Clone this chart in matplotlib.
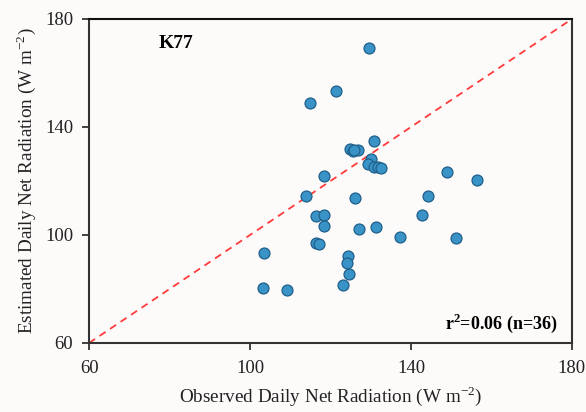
import matplotlib.pyplot as plt
import numpy as np

plt.rcParams['font.family'] = ['Liberation Serif', 'DejaVu Serif']
plt.rcParams['mathtext.fontset'] = 'custom'
plt.rcParams['mathtext.rm'] = 'Liberation Serif'
plt.rcParams['mathtext.bf'] = 'Liberation Serif:bold'

# observed / estimated daily net radiation (W m-2)
observed = [129.6, 121.3, 114.9, 130.7, 124.8, 125.7, 126.9, 130.1, 129.2,
            130.7, 131.8, 132.6, 118.5, 148.9, 156.5, 114.0, 126.2, 144.2,
            116.4, 118.5, 118.5, 127.0, 131.4, 142.8, 137.2, 151.1, 116.4,
            117.2, 124.4, 124.2, 124.6, 123.0, 103.5, 103.2, 109.3, 125.9]
estimated = [169.4, 153.2, 148.9, 134.8, 132.0, 131.1, 131.5, 128.2, 126.3,
             125.3, 125.2, 124.9, 122.0, 123.3, 120.4, 114.6, 113.7, 114.3,
             106.9, 107.4, 103.3, 102.3, 103.0, 107.3, 99.3, 98.8, 97.2,
             96.7, 92.2, 89.7, 85.4, 81.4, 93.2, 80.4, 79.6, 131.3]
ticks = [60, 100, 140, 180]
bg = '#fdfafa'

fig = plt.figure(figsize=(5.86, 4.12), dpi=100, facecolor=bg)
ax = fig.add_axes([0.152, 0.1675, 0.824, 0.7864], facecolor=bg)

ax.plot([60, 180], [60, 180], linestyle=(0, (4, 3)), color='#ff3b3b',
        linewidth=1.3, zorder=1)
ax.scatter(observed, estimated, s=62, color='#3a93c6', edgecolor='#1f5f8a',
           linewidth=0.9, zorder=3)

ax.set_xlim(60, 180)
ax.set_ylim(60, 180)
ax.set_xticks(ticks)
ax.set_yticks(ticks)
ax.tick_params(direction='out', length=5, width=1.2, labelsize=13.5,
               colors='#222222')
ax.tick_params(axis='x', pad=7.5)
ax.tick_params(axis='y', pad=6.5)
for side in ['left', 'bottom', 'top', 'right']:
    ax.spines[side].set_linewidth(1.5)
    ax.spines[side].set_color('#333333')
ax.spines['top'].set_color('#111111')

ax.set_xlabel('Observed Daily Net Radiation (W m$^{-2}$)', fontsize=13.8,
              color='#222222', labelpad=5)
ax.set_ylabel('Estimated Daily Net Radiation (W m$^{-2}$)', fontsize=13.8,
              color='#222222', labelpad=5)

ax.text(0.18, 0.925, 'K77', transform=ax.transAxes, fontsize=14,
        fontweight='bold', ha='center', va='center')
ax.text(0.97, 0.06, r'r$^{\mathbf{2}}$=0.06 (n=36)', transform=ax.transAxes,
        fontsize=13, fontweight='bold', ha='right', va='center')

fig.savefig('out.png', dpi=100, facecolor=bg)
